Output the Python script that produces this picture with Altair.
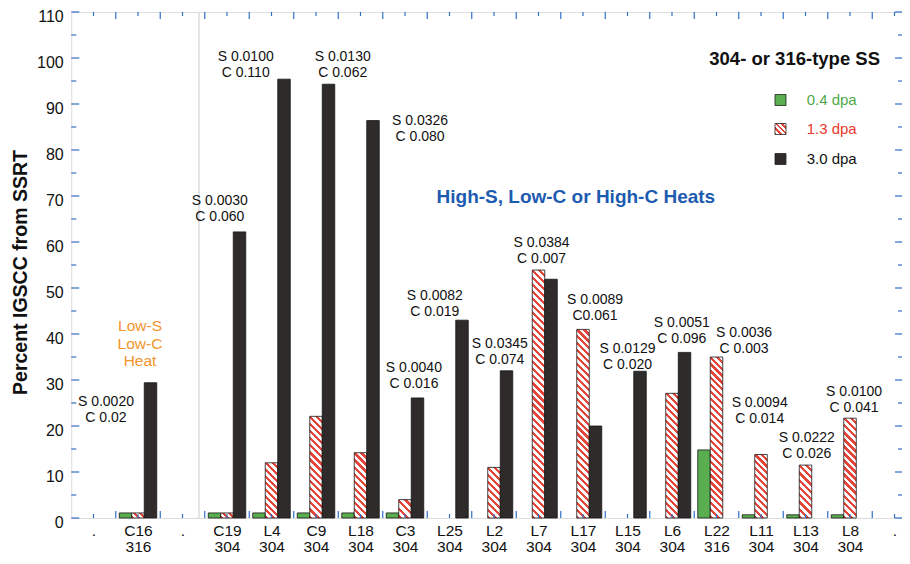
import json
import altair as alt

# ---------------- data ----------------
categories = [".", "C16", ".", "C19", "L4", "C9", "L18", "C3", "L25", "L2",
              "L7", "L17", "L15", "L6", "L22", "L11", "L13", "L8", "."]
steel_types = ["", "316", "", "304", "304", "304", "304", "304", "304", "304",
               "304", "304", "304", "304", "316", "304", "304", "304", ""]

series_names = ["0.4 dpa", "1.3 dpa", "3.0 dpa"]
dpa_04 = [None, 1.1, None, 1.1, 1.1, 1.1, 1.1, 1.1, None, None,
          None, None, None, None, 14.8, 0.7, 0.7, 0.7, None]
dpa_13 = [None, 1.1, None, 1.1, 12.0, 22.1, 14.2, 4.0, None, 11.0,
          53.9, 41.0, None, 27.1, 35.0, 13.8, 11.5, 21.7, None]
dpa_30 = [None, 29.4, None, 62.2, 95.4, 94.3, 86.4, 26.1, 43.0, 32.0,
          51.9, 20.0, 31.9, 36.0, None, None, None, None, None]

ann_s = ["S 0.0020", "S 0.0030", "S 0.0100", "S 0.0130", "S 0.0326", "S 0.0040",
         "S 0.0082", "S 0.0345", "S 0.0384", "S 0.0089", "S 0.0129", "S 0.0051",
         "S 0.0036", "S 0.0094", "S 0.0222", "S 0.0100"]
ann_c = ["C 0.02", "C 0.060", "C 0.110", "C 0.062", "C 0.080", "C 0.016",
         "C 0.019", "C 0.074", "C 0.007", "C0.061", "C 0.020", "C 0.096",
         "C 0.003", "C 0.014", "C 0.026", "C 0.041"]
ann_x = [0.28, 2.84, 3.42, 5.60, 7.34, 7.20, 7.67, 9.13, 10.07, 11.27, 12.0,
         13.22, 14.62, 14.97, 16.03, 17.09]
ann_y = [25.2, 69.0, 100.2, 100.3, 86.3, 32.7, 48.3, 37.9, 59.7, 47.3, 36.8,
         42.5, 40.2, 25.0, 17.3, 27.5]

y_major = list(range(0, 111, 10))
y_minor = list(range(5, 110, 10))
x_centers = list(range(len(categories)))
x_bounds = [k + 0.5 for k in range(len(categories) - 1)]

# ---------------- layout / style ----------------
STEP = 44.5
PLOT_W = 830.75
PLOT_H = 506.0
X0 = -0.5
X1 = X0 + PLOT_W / STEP
UNIT = PLOT_H / 110.0
BAR_W = 12.5
SLOT = [-12.5, 0.0, 12.5]

BLUE_AXIS = "#2f6fc6"
GREEN = "#5aae50"
GREEN_TXT = "#4fa84a"
RED = "#e3473c"
RED_TXT = "#e8392c"
DARK = "#2f2b2b"
ORANGE = "#f2952c"
BLUE_TXT = "#1d5bb0"
FONT = "Liberation Sans"


def hatch(w, h, period=7.0, frac=0.45):
    n = max(1, int(round((w + h) / period)))
    stops = []
    for k in range(n):
        a = k / n
        b = (k + frac) / n
        c = (k + 1) / n
        stops += [{"offset": a, "color": RED}, {"offset": b, "color": RED},
                  {"offset": b, "color": "#ffffff"}, {"offset": c, "color": "#ffffff"}]
    s = (w + h) / (w * w + h * h)
    return {"gradient": "linear", "x1": 0, "y1": 1, "x2": s * w, "y2": 1 - s * h,
            "stops": stops}


xs = alt.Scale(domain=[X0, X1], nice=False, zero=False)
ys = alt.Scale(domain=[0, 110], nice=False, zero=False)

label_lists = [[c] if t == "" else [c, t] for c, t in zip(categories, steel_types)]
x_axis = alt.Axis(values=x_centers, labelExpr=json.dumps(label_lists) + "[datum.value]",
                  ticks=False, tickSize=0, domain=False, grid=False, title=None,
                  labelFontSize=15.5, labelFont=FONT, labelColor="#111111",
                  labelBaseline="top", labelPadding=5, labelLineHeight=16,
                  labelFlush=False, labelOverlap=False, labelBound=False)
y_axis = alt.Axis(values=y_major, ticks=False, tickSize=0, domain=False, grid=False,
                  labelFontSize=16, labelFont=FONT, labelColor="#111111",
                  labelPadding=8, labelOffset=4, labelFlush=False, labelOverlap=False,
                  title="Percent IGSCC from SSRT", titleFont=FONT, titleFontSize=19.5,
                  titleFontWeight="bold", titleColor="#111111", titleAngle=270,
                  titleAlign="center", titleBaseline="middle",
                  titleX=-51, titleY=260)


def X(field):
    return alt.X(field, scale=xs, axis=x_axis)


def Y(field):
    return alt.Y(field, scale=ys, axis=y_axis)


# ---------------- bars ----------------
rows = []
for k, vals in enumerate([dpa_04, dpa_13, dpa_30]):
    for i, v in enumerate(vals):
        if v is None:
            continue
        if k == 0:
            fill = GREEN
        elif k == 1:
            fill = hatch(BAR_W, v * UNIT)
        else:
            fill = DARK
        rows.append({"cat": categories[i], "series": series_names[k], "value": v,
                     "base": 0,
                     "x": i + (SLOT[k] - BAR_W / 2) / STEP,
                     "x2": i + (SLOT[k] + BAR_W / 2) / STEP,
                     "fill": fill})

bars = alt.Chart(alt.Data(values=rows)).mark_bar(stroke="#151515", strokeWidth=0.8).encode(
    x=X("x:Q"),
    x2="x2:Q",
    y=Y("value:Q"),
    y2="base:Q",
    fill=alt.Fill("fill:N", scale=None),
)

sep = alt.Chart(alt.Data(values=[{"x": 2.37}])).mark_rule(
    color="#dcdcdc", strokeWidth=1.5).encode(x=X("x:Q"))

# ---------------- ticks (inward) ----------------
def xticks(vals, y_a, y_b):
    return alt.Chart(alt.Data(values=[{"t": v} for v in vals])).mark_rule(
        color=BLUE_AXIS, strokeWidth=1.2).encode(
        x=X("t:Q"), y=alt.value(y_a), y2=alt.value(y_b))


def yticks(vals, x_a, x_b):
    return alt.Chart(alt.Data(values=[{"t": v} for v in vals])).mark_rule(
        color=BLUE_AXIS, strokeWidth=1.2).encode(
        y=Y("t:Q"), x=alt.value(x_a), x2=alt.value(x_b))


ticks = [
    xticks(x_bounds, PLOT_H, PLOT_H - 7), xticks(x_centers, PLOT_H, PLOT_H - 4),
    xticks(x_bounds, 0, 7), xticks(x_centers, 0, 4),
    yticks(y_major, 0, 8), yticks(y_minor, 0, 5),
    yticks(y_major, PLOT_W, PLOT_W - 7), yticks(y_minor, PLOT_W, PLOT_W - 4),
]

# ---------------- annotations ----------------
ann_rows = [{"x": x, "y": y, "s": s, "c": c} for x, y, s, c in zip(ann_x, ann_y, ann_s, ann_c)]
ann_base = alt.Chart(alt.Data(values=ann_rows))
ann1 = ann_base.mark_text(font=FONT, fontSize=14, color="#111111", align="center",
                          baseline="middle").encode(x=X("x:Q"), y=Y("y:Q"), text="s:N")
ann2 = ann_base.mark_text(font=FONT, fontSize=14, color="#111111", align="center",
                          baseline="middle", dy=16).encode(x=X("x:Q"), y=Y("y:Q"), text="c:N")


def free_text(txt, x, y, **kw):
    return alt.Chart(alt.Data(values=[{"t": txt}])).mark_text(
        font=FONT, baseline="middle", **kw).encode(
        x=alt.value(x), y=alt.value(y), text="t:N")


texts = [
    free_text("Low-S", 68.75, 314, fontSize=15.5, color=ORANGE, align="center"),
    free_text("Low-C", 68.75, 331.5, fontSize=15.5, color=ORANGE, align="center"),
    free_text("Heat", 68.75, 349, fontSize=15.5, color=ORANGE, align="center"),
    free_text("High-S, Low-C or High-C Heats", 504.6, 185, fontSize=19,
              fontWeight="bold", color=BLUE_TXT, align="center"),
    free_text("304- or 316-type SS", 808.75, 47, fontSize=18.5, fontWeight="bold",
              color="#111111", align="right"),
]

# ---------------- legend ----------------
leg_y = [88.0, 117.0, 147.0]
leg_fill = [GREEN, hatch(11, 11, period=5.0), DARK]
leg_txt_color = [GREEN_TXT, RED_TXT, "#111111"]
legend = []
for name, yy, f, tc in zip(series_names, leg_y, leg_fill, leg_txt_color):
    legend.append(alt.Chart(alt.Data(values=[{"n": name}])).mark_square(
        size=121, fill=f, stroke="#222222", strokeWidth=0.8, opacity=1).encode(
        x=alt.value(709.25), y=alt.value(yy)))
    legend.append(free_text(name, 735.4, yy, fontSize=15, color=tc, align="left"))

chart = alt.layer(sep, bars, *ticks, ann1, ann2, *texts, *legend).properties(
    width=PLOT_W, height=PLOT_H,
    padding={"left": 63.25, "top": 4, "right": 0, "bottom": 38},
    autosize=alt.AutoSizeParams(type="none"),
).configure_view(stroke=BLUE_AXIS, strokeWidth=1.5).configure(background="white")

chart.save("out.html", embed_options={"renderer": "svg", "actions": False})
